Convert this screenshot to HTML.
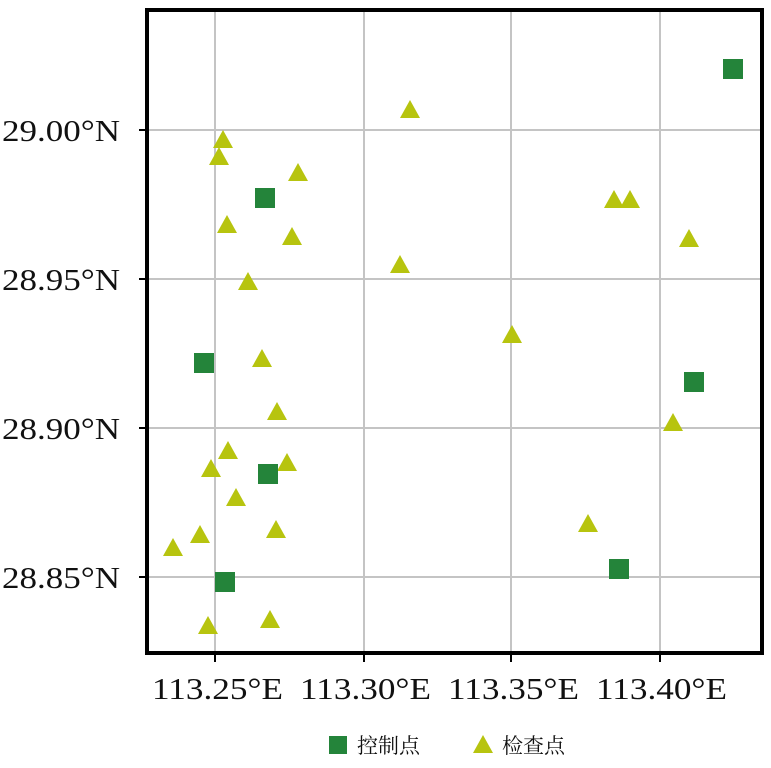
<!DOCTYPE html>
<html><head><meta charset="utf-8"><style>
body{margin:0;background:#fff;}
</style></head><body>
<svg width="771" height="763" xmlns="http://www.w3.org/2000/svg" font-family="Liberation Serif, 'Noto Serif CJK SC', serif">
<rect width="771" height="763" fill="#fff"/>
<g stroke="#c4c4c4" stroke-width="2">
<line x1="215" y1="10" x2="215" y2="653"/>
<line x1="364" y1="10" x2="364" y2="653"/>
<line x1="511" y1="10" x2="511" y2="653"/>
<line x1="660" y1="10" x2="660" y2="653"/>
<line x1="147" y1="130" x2="762" y2="130"/>
<line x1="147" y1="279" x2="762" y2="279"/>
<line x1="147" y1="428" x2="762" y2="428"/>
<line x1="147" y1="577" x2="762" y2="577"/>
</g>
<rect x="147" y="10" width="615" height="643" fill="none" stroke="#000" stroke-width="4"/>
<g stroke="#000" stroke-width="2">
<line x1="215" y1="653" x2="215" y2="662"/><line x1="364" y1="653" x2="364" y2="662"/>
<line x1="511" y1="653" x2="511" y2="662"/><line x1="660" y1="653" x2="660" y2="662"/>
<line x1="139" y1="130" x2="147" y2="130"/><line x1="139" y1="279" x2="147" y2="279"/>
<line x1="139" y1="428" x2="147" y2="428"/><line x1="139" y1="577" x2="147" y2="577"/>
</g>
<g fill="#b7c40f">
<path d="M410,100 l-10,18 h20z"/><path d="M223,130 l-10,18 h20z"/><path d="M219,147 l-10,18 h20z"/>
<path d="M298,163 l-10,18 h20z"/><path d="M614,190 l-10,18 h20z"/><path d="M630,190 l-10,18 h20z"/>
<path d="M227,215 l-10,18 h20z"/><path d="M292,227 l-10,18 h20z"/><path d="M689,229 l-10,18 h20z"/>
<path d="M400,255 l-10,18 h20z"/><path d="M248,272 l-10,18 h20z"/><path d="M512,325 l-10,18 h20z"/>
<path d="M262,349 l-10,18 h20z"/><path d="M277,402 l-10,18 h20z"/><path d="M673,413 l-10,18 h20z"/>
<path d="M228,441 l-10,18 h20z"/><path d="M211,459 l-10,18 h20z"/><path d="M287,453 l-10,18 h20z"/>
<path d="M236,488 l-10,18 h20z"/><path d="M276,520 l-10,18 h20z"/><path d="M588,514 l-10,18 h20z"/>
<path d="M173,538 l-10,18 h20z"/><path d="M200,525 l-10,18 h20z"/><path d="M208,616 l-10,18 h20z"/>
<path d="M270,610 l-10,18 h20z"/>
<path d="M483,735 l-10,18 h20z"/>
</g>
<g fill="#24843a">
<rect x="723" y="59" width="20" height="20"/><rect x="255" y="188" width="20" height="20"/>
<rect x="194" y="353" width="20" height="20"/><rect x="684" y="372" width="20" height="20"/>
<rect x="258" y="464" width="20" height="20"/><rect x="215" y="572" width="20" height="20"/>
<rect x="609" y="559" width="20" height="20"/>
<rect x="329" y="736" width="18" height="18"/>
</g>
<g font-size="31" fill="#111">
<text x="2" y="141" textLength="118" lengthAdjust="spacingAndGlyphs">29.00°N</text>
<text x="2" y="290" textLength="118" lengthAdjust="spacingAndGlyphs">28.95°N</text>
<text x="2" y="439" textLength="118" lengthAdjust="spacingAndGlyphs">28.90°N</text>
<text x="2" y="588" textLength="118" lengthAdjust="spacingAndGlyphs">28.85°N</text>
</g>
<g font-size="31" fill="#111">
<text x="152" y="699" textLength="131" lengthAdjust="spacingAndGlyphs">113.25°E</text>
<text x="300" y="699" textLength="131" lengthAdjust="spacingAndGlyphs">113.30°E</text>
<text x="448" y="699" textLength="131" lengthAdjust="spacingAndGlyphs">113.35°E</text>
<text x="596" y="699" textLength="131" lengthAdjust="spacingAndGlyphs">113.40°E</text>
</g>
<g font-size="21" fill="#111" font-family="'Noto Serif CJK SC', serif">
<text x="357" y="753">控制点</text><text x="502" y="753">检查点</text>
</g>
</svg>
</body></html>
